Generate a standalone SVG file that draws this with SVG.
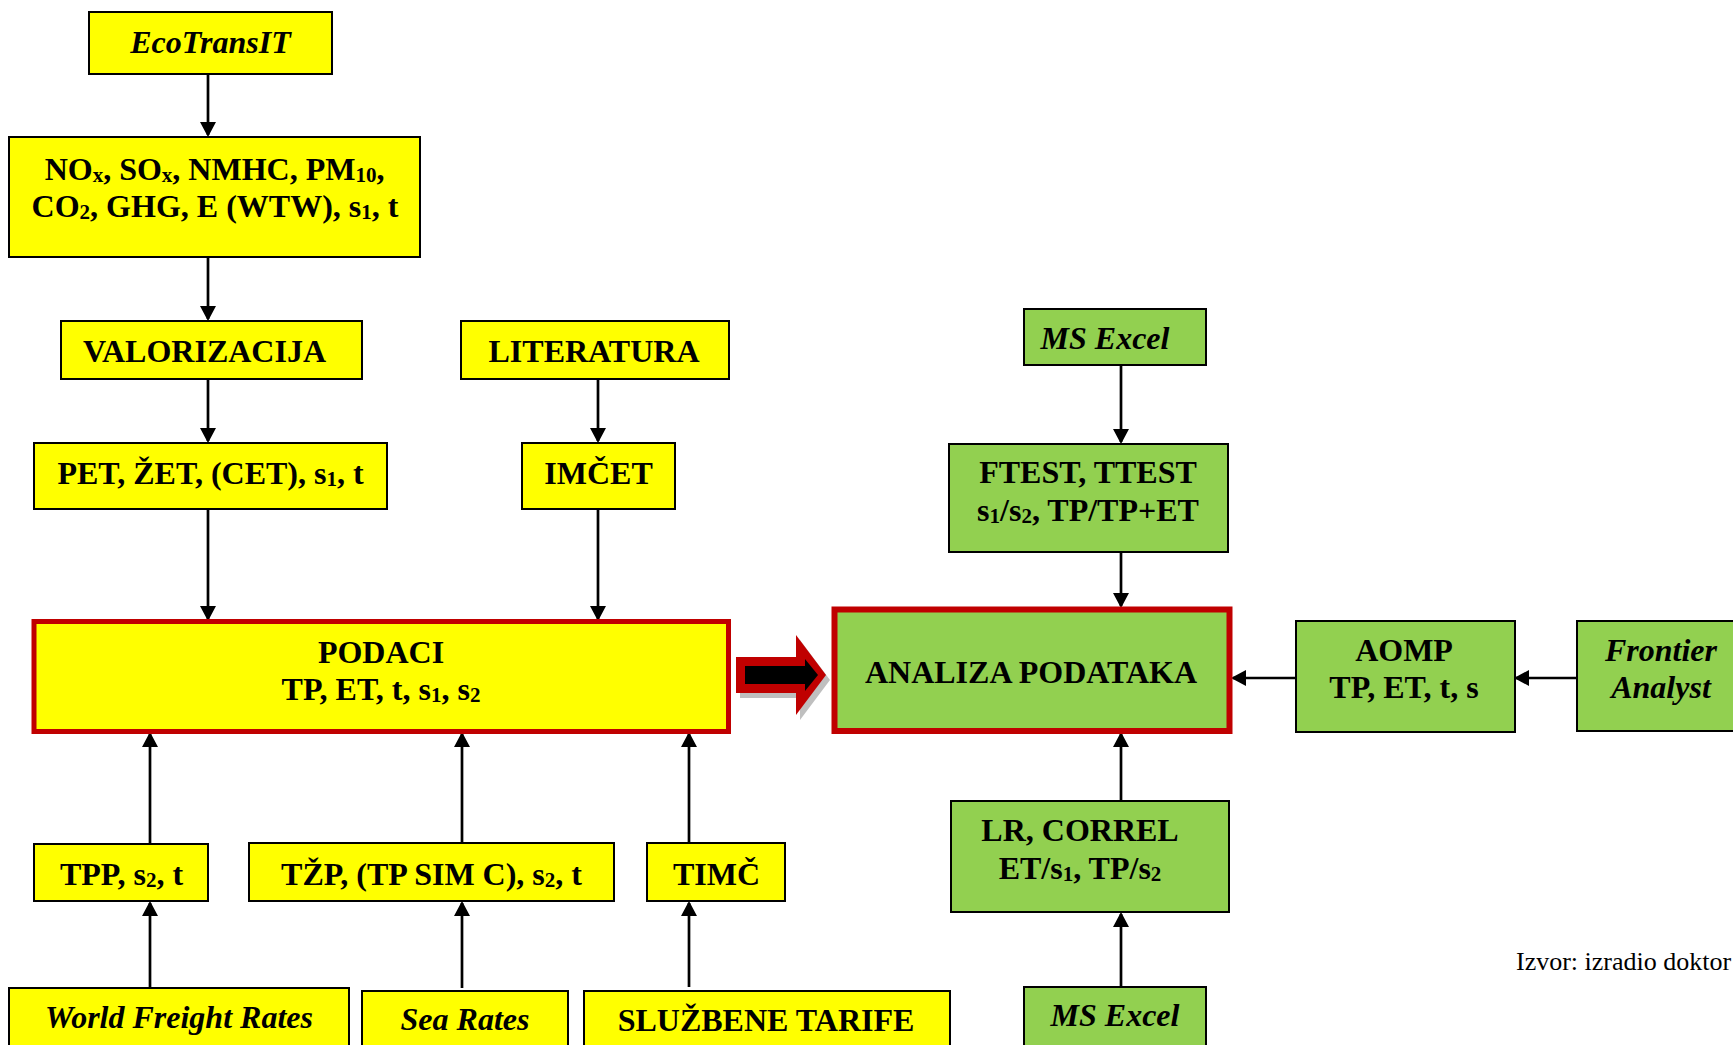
<svg xmlns="http://www.w3.org/2000/svg" width="1733" height="1045" viewBox="0 0 1733 1045">
<defs>
<style>
.y{fill:#FFFF00;stroke:#000;stroke-width:2}
.g{fill:#92D050;stroke:#000;stroke-width:2}
.ry{fill:#FFFF00;stroke:#C00000;stroke-width:5}
.rg{fill:#92D050;stroke:#C00000;stroke-width:6}
.t{font-family:"Liberation Serif","Times New Roman",serif;font-weight:bold;font-size:32px;fill:#000;text-anchor:middle}
.i{font-style:italic}
.s{font-size:21px}
.src{font-family:"Liberation Serif","Times New Roman",serif;font-size:26px;fill:#000}
.c{fill:none;stroke:#000;stroke-width:2.7;marker-end:url(#ah)}
</style>
<marker id="ah" markerUnits="userSpaceOnUse" markerWidth="15" markerHeight="16" viewBox="0 0 15 16" refX="13" refY="8" orient="auto">
<path d="M0,0 L15,8 L0,16 z" fill="#000"/>
</marker>
</defs>
<rect width="1733" height="1045" fill="#fff"/>

<g id="connectors">
<path class="c" d="M208,74 V135"/>
<path class="c" d="M208,257 V319"/>
<path class="c" d="M208,379 V441"/>
<path class="c" d="M598,379 V441"/>
<path class="c" d="M208,509 V619"/>
<path class="c" d="M598,509 V619"/>
<path class="c" d="M150,844 V734"/>
<path class="c" d="M462,843 V734"/>
<path class="c" d="M689,843 V734"/>
<path class="c" d="M150,989 V903"/>
<path class="c" d="M462,988 V903"/>
<path class="c" d="M689,987 V903"/>
<path class="c" d="M1121,365 V442"/>
<path class="c" d="M1121,552 V606"/>
<path class="c" d="M1121,801 V734"/>
<path class="c" d="M1121,987 V914"/>
<path class="c" d="M1296,678 H1233"/>
<path class="c" d="M1577,678 H1516"/>
</g>

<g id="big-arrow">
<polygon points="740,662 800,662 800,640 830,680 800,720 800,698 740,698" fill="#BFBFBF"/>
<polygon points="736,657 796,657 796,635 826,675 796,715 796,693 736,693" fill="#C00000"/>
<polygon points="745,666 805,666 805,659 818,675 805,691 805,684 745,684" fill="#000"/>
</g>

<g id="ecotransit">
<rect class="y" x="89" y="12" width="243" height="62"/>
<text class="t i" x="210.5" y="53">EcoTransIT</text>
</g>
<g id="emissions">
<rect class="y" x="9" y="137" width="411" height="120"/>
<text class="t" x="214.5" y="180">NO<tspan class="s" dy="2">x</tspan><tspan dy="-2">, SO</tspan><tspan class="s" dy="2">x</tspan><tspan dy="-2">, NMHC, PM</tspan><tspan class="s" dy="2">10</tspan><tspan dy="-2">,</tspan></text>
<text class="t" x="215" y="217">CO<tspan class="s" dy="2">2</tspan><tspan dy="-2">, GHG, E (WTW), s</tspan><tspan class="s" dy="2">1</tspan><tspan dy="-2">, t</tspan></text>
</g>
<g id="valorizacija">
<rect class="y" x="61" y="321" width="301" height="58"/>
<text class="t" x="204.5" y="362">VALORIZACIJA</text>
</g>
<g id="literatura">
<rect class="y" x="461" y="321" width="268" height="58"/>
<text class="t" x="594" y="362">LITERATURA</text>
</g>
<g id="pet">
<rect class="y" x="34" y="443" width="353" height="66"/>
<text class="t" x="210.5" y="484">PET, ŽET, (CET), s<tspan class="s" dy="2">1</tspan><tspan dy="-2">, t</tspan></text>
</g>
<g id="imcet">
<rect class="y" x="522" y="443" width="153" height="66"/>
<text class="t" x="598.5" y="484">IMČET</text>
</g>
<g id="podaci">
<rect class="ry" x="34" y="621.5" width="694.5" height="110"/>
<text class="t" x="381" y="663">PODACI</text>
<text class="t" x="381" y="700">TP, ET, t, s<tspan class="s" dy="2">1</tspan><tspan dy="-2">, s</tspan><tspan class="s" dy="2">2</tspan></text>
</g>
<g id="tpp">
<rect class="y" x="34" y="844" width="174" height="57"/>
<text class="t" x="121.5" y="885">TPP, s<tspan class="s" dy="2">2</tspan><tspan dy="-2">, t</tspan></text>
</g>
<g id="tzp">
<rect class="y" x="249" y="843" width="365" height="58"/>
<text class="t" x="431.5" y="885">TŽP, (TP SIM C), s<tspan class="s" dy="2">2</tspan><tspan dy="-2">, t</tspan></text>
</g>
<g id="timc">
<rect class="y" x="647" y="843" width="138" height="58"/>
<text class="t" x="716.5" y="885">TIMČ</text>
</g>
<g id="world-freight-rates">
<rect class="y" x="9" y="988" width="340" height="70"/>
<text class="t i" x="179" y="1028">World Freight Rates</text>
</g>
<g id="sea-rates">
<rect class="y" x="362" y="991" width="206" height="70"/>
<text class="t i" x="465" y="1030">Sea Rates</text>
</g>
<g id="sluzbene-tarife">
<rect class="y" x="584" y="991" width="366" height="70"/>
<text class="t" x="766" y="1031">SLUŽBENE TARIFE</text>
</g>

<g id="ms-excel-top">
<rect class="g" x="1024" y="309" width="182" height="56"/>
<text class="t i" x="1105" y="349">MS Excel</text>
</g>
<g id="ftest">
<rect class="g" x="949" y="444" width="279" height="108"/>
<text class="t" x="1088" y="483">FTEST, TTEST</text>
<text class="t" x="1088" y="521">s<tspan class="s" dy="2">1</tspan><tspan dy="-2">/s</tspan><tspan class="s" dy="2">2</tspan><tspan dy="-2">, TP/TP+ET</tspan></text>
</g>
<g id="analiza">
<rect class="rg" x="834.5" y="609.5" width="395" height="121.5"/>
<text class="t" x="1031" y="683">ANALIZA PODATAKA</text>
</g>
<g id="aomp">
<rect class="g" x="1296" y="621" width="219" height="111"/>
<text class="t" x="1404" y="661">AOMP</text>
<text class="t" x="1404" y="698">TP, ET, t, s</text>
</g>
<g id="frontier-analyst">
<rect class="g" x="1577" y="621" width="168" height="110"/>
<text class="t i" x="1661" y="661">Frontier</text>
<text class="t i" x="1661" y="698">Analyst</text>
</g>
<g id="lr-correl">
<rect class="g" x="951" y="801" width="278" height="111"/>
<text class="t" x="1080" y="841">LR, CORREL</text>
<text class="t" x="1080" y="879">ET/s<tspan class="s" dy="2">1</tspan><tspan dy="-2">, TP/s</tspan><tspan class="s" dy="2">2</tspan></text>
</g>
<g id="ms-excel-bottom">
<rect class="g" x="1024" y="987" width="182" height="70"/>
<text class="t i" x="1115" y="1026">MS Excel</text>
</g>

<text class="src" x="1516" y="970">Izvor: izradio doktor</text>
</svg>
